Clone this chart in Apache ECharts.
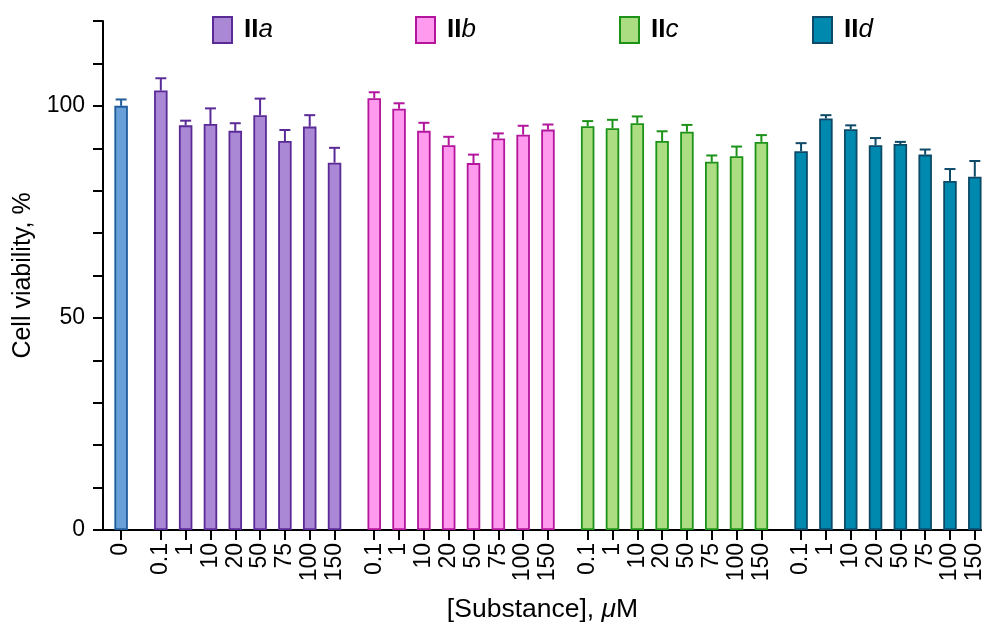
<!DOCTYPE html>
<html>
<head>
<meta charset="utf-8">
<script src="https://cdn.jsdelivr.net/npm/echarts@6/dist/echarts.min.js"></script>
<style>
html,body{margin:0;padding:0;background:#fff;}
#chart{width:982px;height:624px;}
</style>
</head>
<body>
<div id="chart"></div>
<script>
// ---- data ----
const concLabels = ['0.1', '1', '10', '20', '50', '75', '100', '150'];
const controlLabel = '0';
const controlValue = [100.0];
const controlErr = [1.5];
const groupNames = ['IIa', 'IIb', 'IIc', 'IId'];
const IIa = [103.6, 95.4, 95.7, 94.1, 97.8, 91.7, 95.1, 86.6];
const IIaErr = [2.9, 1.1, 3.7, 1.8, 3.9, 2.6, 2.7, 3.5];
const IIb = [101.8, 99.3, 94.1, 90.7, 86.5, 92.3, 93.2, 94.4];
const IIbErr = [1.4, 1.3, 1.9, 2.0, 2.0, 1.2, 2.1, 1.2];
const IIc = [95.2, 94.7, 95.9, 91.7, 93.9, 86.8, 88.1, 91.5];
const IIcErr = [1.2, 2.0, 1.6, 2.3, 1.6, 1.5, 2.3, 1.6];
const IId = [89.3, 97.0, 94.5, 90.7, 91.0, 88.5, 82.3, 83.3];
const IIdErr = [1.9, 0.8, 0.9, 1.7, 0.5, 1.2, 2.8, 3.7];
const yTicks = [0, 50, 100];

// ---- layout (slot positions on the x value axis) ----
const GROUP_GAP = 1.6;
const groupValues = [IIa, IIb, IIc, IId];
const groupErrs = [IIaErr, IIbErr, IIcErr, IIdErr];
const fills = ['#ab88d5', '#ff9aee', '#addd82', '#0089ae'];
const borders = ['#5a2a97', '#b3169c', '#1c9318', '#0c4a68'];
const ctrlFill = '#69a0d8', ctrlBorder = '#1e5c9c';

function posOf(g, i) { return GROUP_GAP + g * (concLabels.length - 1 + GROUP_GAP) + i; }
const xPositions = [0];
const xLabels = [controlLabel];
groupNames.forEach((n, g) => concLabels.forEach((l, i) => { xPositions.push(posOf(g, i)); xLabels.push(l); }));

function labelFor(v) {
  let best = 0, bd = Infinity;
  xPositions.forEach((p, k) => { const d = Math.abs(p - v); if (d < bd) { bd = d; best = k; } });
  return bd < 0.01 ? xLabels[best] : '';
}

const FONT = 'Liberation Sans, Arial, Helvetica, sans-serif';
const BAR_W = 13.5;

function errRender(color) {
  return function (params, api) {
    const x = api.value(0), v = api.value(1), e = api.value(2);
    const p0 = api.coord([x, v]);
    const p1 = api.coord([x, v + e]);
    const hw = 5.5;
    return {
      type: 'group',
      children: [
        { type: 'line', shape: { x1: p0[0], y1: p0[1], x2: p1[0], y2: p1[1] }, style: { stroke: color, lineWidth: 2 } },
        { type: 'line', shape: { x1: p1[0] - hw, y1: p1[1], x2: p1[0] + hw, y2: p1[1] }, style: { stroke: color, lineWidth: 2 } }
      ]
    };
  };
}

const series = [];
series.push({
  type: 'bar', name: 'control', barWidth: BAR_W, barGap: '-100%',
  data: controlValue.map((v) => [0, v]),
  itemStyle: { color: ctrlFill, borderColor: ctrlBorder, borderWidth: 1.8 },
  z: 2
});
series.push({
  type: 'custom', name: 'controlErr', renderItem: errRender(ctrlBorder),
  encode: { x: 0, y: 1 }, data: controlValue.map((v, i) => [0, v, controlErr[i]]), z: 3
});
groupNames.forEach((n, g) => {
  series.push({
    type: 'bar', name: n, barWidth: BAR_W, barGap: '-100%',
    data: groupValues[g].map((v, i) => [posOf(g, i), v]),
    itemStyle: { color: fills[g], borderColor: borders[g], borderWidth: 1.8 },
    z: 2
  });
  series.push({
    type: 'custom', name: n + 'Err', renderItem: errRender(borders[g]),
    encode: { x: 0, y: 1 },
    data: groupValues[g].map((v, i) => [posOf(g, i), v, groupErrs[g][i]]), z: 3
  });
});

const legendLefts = [212, 415, 619, 812];
const legends = groupNames.map((n, g) => ({
  data: [n], left: legendLefts[g], top: 16, padding: 0, itemWidth: 19, itemHeight: 26, itemGap: 0,
  icon: 'rect', selectedMode: false,
  formatter: (name) => '{b|II}{i|' + name.slice(2) + '}',
  textStyle: {
    fontFamily: FONT, color: '#000', padding: [0, 0, 0, 7],
    rich: {
      b: { fontFamily: FONT, fontWeight: 'bold', fontSize: 26, color: '#000' },
      i: { fontFamily: FONT, fontStyle: 'italic', fontSize: 26, color: '#000' }
    }
  }
}));

const chart = echarts.init(document.getElementById('chart'), null, { renderer: 'canvas' });
chart.setOption({
  animation: false,
  backgroundColor: '#fff',
  legend: legends,
  grid: { left: 103, right: 0, top: 21, bottom: 94, containLabel: false, outerBoundsMode: 'none' },
  xAxis: {
    type: 'value', min: -0.73, max: 34.69,
    name: '[Substance], {i|μ}M', nameLocation: 'middle', nameGap: 66,
    nameTextStyle: {
      fontFamily: FONT, fontSize: 26.5, color: '#000',
      rich: { i: { fontFamily: FONT, fontStyle: 'italic', fontSize: 26.5, color: '#000' } }
    },
    splitLine: { show: false },
    axisLine: { show: true, onZero: false, lineStyle: { color: '#000', width: 2 } },
    axisTick: { show: true, length: 10, customValues: xPositions, lineStyle: { color: '#000', width: 2 } },
    axisLabel: {
      customValues: xPositions, rotate: 90, margin: 13,
      formatter: labelFor, fontFamily: FONT, fontSize: 23, color: '#000'
    }
  },
  yAxis: {
    type: 'value', min: 0, max: 120, interval: 10,
    name: 'Cell viability, %', nameLocation: 'middle', nameGap: 62,
    nameTextStyle: { fontFamily: FONT, fontSize: 25, color: '#000' },
    splitLine: { show: false },
    axisLine: { show: true, onZero: false, lineStyle: { color: '#000', width: 2 } },
    axisTick: { show: true, length: 10, lineStyle: { color: '#000', width: 2 } },
    axisLabel: {
      margin: 18, fontFamily: FONT, fontSize: 23, color: '#000',
      formatter: (v) => (yTicks.indexOf(v) >= 0 ? String(v) : '')
    }
  },
  series: series
});
</script>
</body>
</html>
